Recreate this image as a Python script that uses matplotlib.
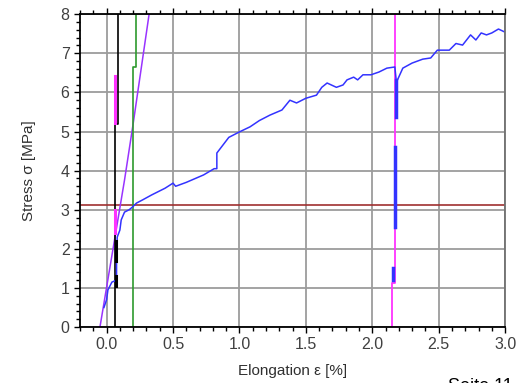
import numpy as np
import matplotlib.pyplot as plt
from matplotlib.ticker import MultipleLocator, FormatStrFormatter

plt.rcParams['font.family'] = ['Liberation Sans', 'DejaVu Sans']

# Kurve Spannung-Dehnung (blau)
dehnung = [-0.02, 0.0, 0.01, 0.04, 0.075, 0.075, 0.08, 0.1, 0.11, 0.135, 0.17, 0.195,
           0.225, 0.27, 0.34, 0.44, 0.5, 0.52, 0.6, 0.73, 0.81, 0.83, 0.83, 0.92, 1.0,
           1.08, 1.15, 1.23, 1.32, 1.38, 1.43, 1.5, 1.58, 1.62, 1.66, 1.73, 1.78, 1.81,
           1.86, 1.89, 1.93, 1.99, 2.05, 2.11, 2.17, 2.18, 2.19, 2.23, 2.3, 2.38, 2.44,
           2.49, 2.58, 2.63, 2.68, 2.74, 2.78, 2.82, 2.86, 2.9, 2.95, 3.0]
spannung = [0.5, 0.7, 0.95, 1.15, 1.2, 1.63, 2.3, 2.48, 2.74, 2.94, 3.0, 3.07,
            3.17, 3.25, 3.38, 3.55, 3.68, 3.6, 3.7, 3.89, 4.05, 4.05, 4.45, 4.85, 4.99,
            5.12, 5.28, 5.42, 5.55, 5.8, 5.73, 5.85, 5.93, 6.13, 6.24, 6.13, 6.19, 6.32,
            6.39, 6.32, 6.45, 6.45, 6.52, 6.62, 6.65, 6.32, 6.32, 6.62, 6.75, 6.85, 6.88,
            7.08, 7.08, 7.25, 7.21, 7.47, 7.34, 7.52, 7.47, 7.52, 7.62, 7.54]

# Hilfslinien
lila_x = [-0.05, 0.135, 0.2, 0.32]
lila_y = [0.0, 3.76, 5.2, 8.0]
schwarz_x = [0.062, 0.062, 0.083, 0.083]
schwarz_y = [0.0, 5.2, 5.2, 8.0]
gruen_x = [0.2, 0.2, 0.225, 0.225]
gruen_y = [0.0, 6.65, 6.65, 8.0]
magenta_x = [2.15, 2.15, 2.17, 2.17]
magenta_y = [0.0, 1.12, 1.12, 8.0]
streckgrenze = 3.12

# kurze dicke Segmente: (x, y_von, y_bis)
blau_seg = [(2.18, 5.37, 6.32), (2.17, 2.56, 4.6), (2.155, 1.2, 1.5)]
magenta_seg = [(0.065, 5.23, 6.42), (0.06, 2.4, 3.0)]
schwarz_seg = [(0.072, 1.05, 1.3), (0.068, 1.7, 2.2)]

fig = plt.figure(figsize=(5.3, 3.83), dpi=100)
ax = fig.add_axes([0.151, 0.146, 0.802, 0.817])

ax.grid(True, which='major', color='#9c9c9c', linewidth=1.3)
ax.set_axisbelow(True)

ax.axhline(streckgrenze, color='#a03030', linewidth=1.2)
ax.plot(lila_x, lila_y, color='#9933ff', linewidth=1.1)
ax.plot(schwarz_x, schwarz_y, color='black', linewidth=1.2)
ax.plot(gruen_x, gruen_y, color='#2e9a2e', linewidth=1.2)
ax.plot(magenta_x, magenta_y, color='#ff33ff', linewidth=1.3)
ax.plot(dehnung, spannung, color='#3333ff', linewidth=1.1)

for x, y0, y1 in blau_seg:
    ax.plot([x, x], [y0, y1], color='#3333ff', linewidth=2.5)
for x, y0, y1 in magenta_seg:
    ax.plot([x, x], [y0, y1], color='#ff33ff', linewidth=2.2)
for x, y0, y1 in schwarz_seg:
    ax.plot([x, x], [y0, y1], color='black', linewidth=2.2)

ax.set_xlim(-0.2, 3.0)
ax.set_ylim(0, 8)
ax.xaxis.set_major_locator(MultipleLocator(0.5))
ax.xaxis.set_minor_locator(MultipleLocator(0.1))
ax.yaxis.set_major_locator(MultipleLocator(1))
ax.yaxis.set_minor_locator(MultipleLocator(0.2))
ax.xaxis.set_major_formatter(FormatStrFormatter('%.1f'))

ax.tick_params(which='both', direction='out', colors='black', labelcolor='#404040',
               labelsize=11.5, top=True, width=1.0)
ax.tick_params(which='major', length=4)
ax.tick_params(which='minor', length=3)
ax.tick_params(axis='x', labeltop=False)

for s in ['top', 'left', 'bottom']:
    ax.spines[s].set_color('black')
    ax.spines[s].set_linewidth(1.3)
ax.spines['right'].set_color('#707070')
ax.spines['right'].set_linewidth(1.3)

ax.set_xlabel('Elongation ε [%]', fontsize=11, color='#303030', labelpad=8)
ax.set_ylabel('Stress σ [MPa]', fontsize=11, color='#303030', labelpad=18)

fig.text(0.845, -0.02, 'Seite 11', fontsize=13, color='black', va='baseline')

fig.savefig('out.png', dpi=100)
